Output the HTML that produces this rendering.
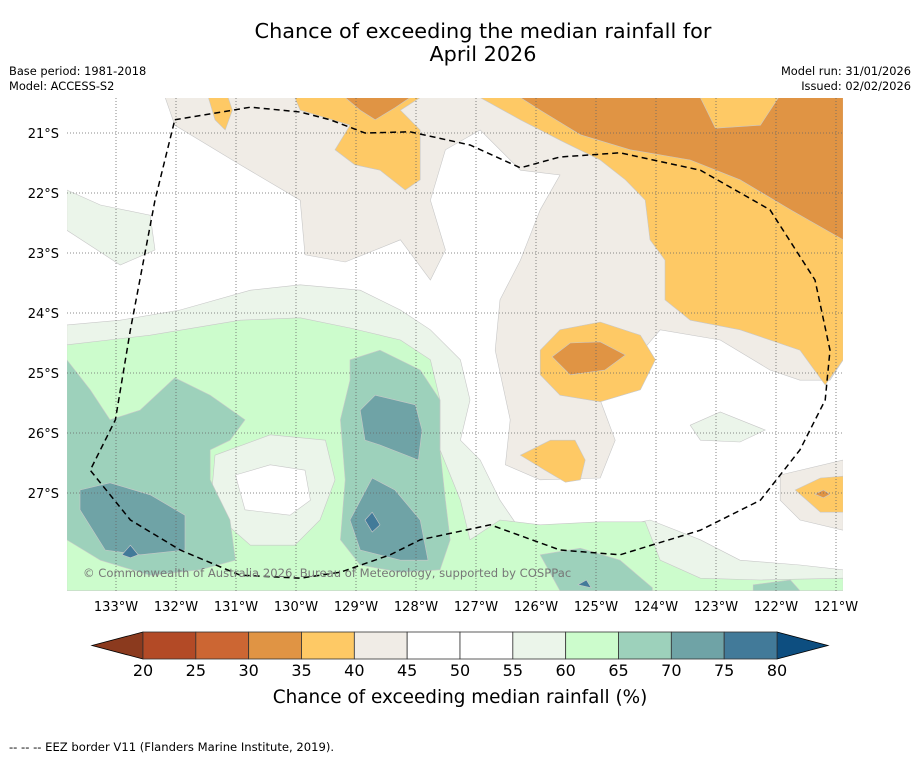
<!DOCTYPE html>
<html><head><meta charset="utf-8"><style>
body{margin:0;background:#fff;}
svg{display:block;font-family:"DejaVu Sans","Liberation Sans",sans-serif;}
</style></head><body>
<svg id="chart" width="919" height="758" viewBox="0 0 919 758" xmlns="http://www.w3.org/2000/svg">
<rect width="919" height="758" fill="#fff"/>
<text x="483" y="38" font-size="20.8" text-anchor="middle">Chance of exceeding the median rainfall for</text>
<text x="483" y="61" font-size="20.8" text-anchor="middle">April 2026</text>
<text x="9" y="75" font-size="11.4">Base period: 1981-2018</text>
<text x="9" y="90" font-size="11.4">Model: ACCESS-S2</text>
<text x="911" y="75" font-size="11.4" text-anchor="end">Model run: 31/01/2026</text>
<text x="911" y="90" font-size="11.4" text-anchor="end">Issued: 02/02/2026</text>
<defs><clipPath id="mapclip"><rect x="67" y="98" width="776" height="493"/></clipPath></defs>
<g id="map" clip-path="url(#mapclip)"></g>
<g id="grid"></g>
<path id="eez" fill="none" stroke="#000" stroke-width="1.5" stroke-dasharray="6,4" clip-path="url(#mapclip)"/>
<text x="83" y="577" font-size="11.6" fill="#777">© Commonwealth of Australia 2026, Bureau of Meteorology, supported by COSPPac</text>
<g id="xticks"></g>
<g id="yticks"></g>
<g id="cbar"></g>
<text x="460" y="703" font-size="18.4" text-anchor="middle">Chance of exceeding median rainfall (%)</text>
<text x="9" y="751" font-size="11.6">--  --  -- EEZ border V11 (Flanders Marine Institute, 2019).</text>
</svg>
<script>
const lonTicks=[133,132,131,130,129,128,127,126,125,124,123,122,121];
const latTicks=[21,22,23,24,25,26,27];
const levels=[20,25,30,35,40,45,50,55,60,65,70,75,80];
const levelColors=["#b34a26","#cc6633","#e09444","#fec965","#f0ece6","#ffffff","#ffffff","#ebf5ea","#ccfccc","#9dd1bb","#6fa3a6","#427a99"];
const extLow="#8b3a1e", extHigh="#0d4e80";
const beigeMain=[[132.18,20.41],[132.02,20.87],[130.93,21.53],[129.93,22.12],[129.85,23.03],[129.18,23.15],[128.68,22.95],[128.26,22.78],[127.76,23.45],[127.51,22.95],[127.76,22.12],[127.51,21.28],[126.93,20.95],[126.26,21.62],[125.6,21.7],[125.93,22.28],[126.26,23.12],[126.6,23.78],[126.68,24.62],[126.43,25.78],[126.51,26.53],[125.93,26.78],[124.93,26.75],[124.68,26.12],[124.93,25.45],[123.93,24.28],[122.93,24.45],[122.1,24.95],[121.6,25.12],[121.1,25.12],[120.88,24.78],[120.88,20.41]];
const beigeRight=[[121.93,26.7],[120.88,26.45],[120.88,27.62],[121.6,27.45],[121.93,27.12]];
const orangeTop=[[130.02,20.41],[129.93,20.62],[129.1,20.87],[129.35,21.28],[129.02,21.53],[128.6,21.62],[128.18,21.95],[127.93,21.78],[127.93,20.95],[128.26,20.62],[127.93,20.41]];
const orangeSmall=[[131.46,20.41],[131.35,20.78],[131.18,20.95],[131.06,20.62],[131.13,20.41]];
const orangeRight=[[126.93,20.41],[126.26,20.78],[125.6,21.12],[124.93,21.45],[124.51,21.78],[124.18,22.12],[124.1,22.78],[123.85,23.12],[123.85,23.78],[123.43,24.12],[122.6,24.28],[121.6,24.62],[121.18,25.2],[120.88,24.78],[120.88,20.41]];
const orangeMid=[[125.93,24.62],[125.6,24.28],[124.93,24.15],[124.26,24.37],[124.01,24.78],[124.26,25.28],[124.93,25.48],[125.6,25.37],[125.93,25.03]];
const orangeLow=[[126.26,26.37],[125.76,26.12],[125.35,26.12],[125.18,26.45],[125.26,26.78],[125.51,26.82],[125.85,26.62]];
const orangeEdge=[[121.68,26.95],[121.26,26.75],[120.88,26.72],[120.88,27.32],[121.26,27.32]];
const darkTop=[[129.18,20.41],[128.93,20.62],[128.68,20.78],[128.35,20.58],[128.1,20.41]];
const darkRight=[[126.26,20.41],[125.93,20.62],[125.26,21.03],[124.43,21.28],[123.43,21.45],[122.6,21.78],[121.76,22.28],[120.88,22.78],[120.88,20.41],[121.96,20.41],[122.26,20.87],[123.01,20.92],[123.26,20.41]];
const darkMid=[[125.73,24.73],[125.43,24.5],[124.93,24.48],[124.51,24.7],[124.85,24.95],[125.43,25.03]];
const darkEdge=[[121.35,27.02],[121.21,26.95],[121.1,27.02],[121.21,27.08]];
const lgTopLeft=[[133.82,21.95],[133.26,22.2],[132.43,22.37],[132.35,22.95],[132.93,23.2],[133.82,22.62]];
const lgMain=[[133.82,24.2],[132.93,24.12],[131.93,23.95],[130.76,23.62],[129.93,23.53],[128.93,23.62],[128.26,23.95],[127.76,24.28],[127.26,24.78],[127.1,25.45],[127.26,26.12],[126.93,26.45],[126.6,27.12],[126.26,27.62],[125.6,27.87],[124.93,27.62],[124.1,27.45],[123.26,27.78],[122.6,28.12],[121.6,28.2],[120.88,28.28],[120.88,28.63],[133.82,28.63]];
const lgPatch=[[123.43,25.87],[122.93,25.65],[122.18,25.95],[122.6,26.15],[123.26,26.12]];
const greenMain=[[133.82,24.53],[132.43,24.37],[130.93,24.12],[129.93,24.08],[129.1,24.25],[128.26,24.45],[127.76,24.78],[127.6,25.45],[127.6,26.28],[127.26,27.12],[127.1,27.78],[126.6,27.45],[125.93,27.53],[124.93,27.48],[124.18,27.48],[123.93,28.12],[123.26,28.42],[122.26,28.45],[120.88,28.42],[120.88,28.63],[133.82,28.63]];
const lgRing=[[131.35,26.37],[130.43,26.03],[129.51,26.12],[129.35,26.78],[129.6,27.45],[130.02,27.87],[130.76,27.87],[131.43,27.28]];
const whiteInner=[[131.01,26.7],[130.43,26.53],[129.85,26.62],[129.76,27.12],[130.1,27.37],[130.85,27.28]];
const tealLeft=[[133.82,24.78],[133.43,25.28],[133.1,25.78],[132.6,25.62],[132.02,25.08],[131.43,25.37],[130.85,25.78],[131.1,26.12],[131.43,26.28],[131.43,26.78],[131.1,27.45],[131.01,28.12],[131.6,28.28],[132.43,28.37],[133.26,28.12],[133.82,27.78]];
const tealCenter=[[129.1,24.78],[128.6,24.62],[127.93,24.95],[127.6,25.45],[127.6,26.28],[127.51,27.12],[127.43,27.78],[127.6,28.28],[128.26,28.32],[128.93,28.2],[129.26,27.78],[129.18,26.78],[129.26,25.78],[129.1,25.12]];
const tealBR=[[125.93,28.03],[125.26,27.92],[124.6,28.12],[124.06,28.58],[124.06,28.63],[125.6,28.63]];
const tealBR2=[[122.38,28.53],[121.76,28.45],[121.6,28.63],[122.38,28.63]];
const deepLeft=[[133.6,26.95],[133.1,26.83],[132.43,27.03],[131.85,27.37],[131.85,27.95],[132.6,28.03],[133.18,27.95],[133.6,27.28]];
const deepCtrTop=[[128.93,25.62],[128.68,25.37],[128.01,25.53],[127.9,25.95],[127.96,26.45],[128.6,26.2],[128.85,26.12]];
const deepCtrBot=[[129.1,27.45],[128.73,26.75],[128.35,26.95],[127.93,27.45],[127.8,28.12],[128.26,28.12],[128.93,27.95]];
const darkest1=[[132.9,28.03],[132.76,27.87],[132.63,28.03],[132.76,28.08]];
const darkest2=[[128.85,27.45],[128.73,27.32],[128.6,27.53],[128.73,27.65]];
const darkest3=[[125.3,28.53],[125.16,28.45],[125.08,28.58]];
const eezLine=[[132.02,20.78],[130.76,20.57],[129.93,20.65],[129.43,20.78],[128.85,21.0],[128.1,20.98],[127.1,21.2],[126.26,21.58],[125.6,21.4],[124.6,21.33],[123.26,21.62],[122.1,22.28],[121.35,23.45],[121.1,24.62],[121.18,25.45],[121.6,26.28],[122.26,27.12],[123.26,27.62],[124.6,28.03],[125.6,27.95],[126.76,27.53],[127.93,27.78],[128.43,28.03],[129.26,28.32],[129.93,28.42],[130.93,28.37],[131.93,27.95],[132.76,27.45],[133.43,26.62],[133.01,25.78],[132.76,24.28],[132.35,22.12],[132.02,20.78]];
const layers=[[4,beigeMain],[4,beigeRight],[3,orangeTop],[3,orangeSmall],[3,orangeRight],[3,orangeMid],[3,orangeLow],[3,orangeEdge],[2,darkTop],[2,darkRight],[2,darkMid],[2,darkEdge],[7,lgTopLeft],[7,lgMain],[7,lgPatch],[8,greenMain],[7,lgRing],[5,whiteInner],[9,tealLeft],[9,tealCenter],[9,tealBR],[9,tealBR2],[10,deepLeft],[10,deepCtrTop],[10,deepCtrBot],[11,darkest1],[11,darkest2],[11,darkest3]];
const layerNames=["beige-main","beige-right","orange-top","orange-small","orange-right","orange-mid","orange-low","orange-edge","darkorange-top","darkorange-right","darkorange-mid","darkorange-edge","lightgreen-topleft","lightgreen-main","lightgreen-patch","green-main","lightgreen-ring","white-inner","teal-left","teal-center","teal-bottom","teal-bottom-right","deepteal-left","deepteal-center-top","deepteal-center-bottom","darkest-1","darkest-2","darkest-3"];

const NS="http://www.w3.org/2000/svg";
const xS=lonW=>116+(133-lonW)*60;
const yS=latS=>133+(latS-21)*60;
const ptsStr=a=>a.map(p=>xS(p[0]).toFixed(1)+","+yS(p[1]).toFixed(1)).join(" ");
function mk(tag,attrs,parent){const e=document.createElementNS(NS,tag);for(const k in attrs)e.setAttribute(k,attrs[k]);parent.appendChild(e);return e;}
const map=document.getElementById('map');
layers.forEach((l,i)=>{
  const p=mk('polygon',{points:ptsStr(l[1]),fill:levelColors[l[0]],stroke:"#c8c8c8","stroke-width":"0.6"},map);
  
  
});
document.getElementById('eez').setAttribute('d','M'+eezLine.map(p=>xS(p[0]).toFixed(1)+","+yS(p[1]).toFixed(1)).join(" L"));
const grid=document.getElementById('grid'),xt=document.getElementById('xticks'),yt=document.getElementById('yticks');
lonTicks.forEach(v=>{
  const x=xS(v);
  mk('line',{x1:x,x2:x,y1:98,y2:591,stroke:"#666","stroke-width":"0.8","stroke-dasharray":"1,2"},grid);
  const t=mk('text',{x:x,y:611,"font-size":"13","text-anchor":"middle"},xt);
  t.textContent=v+"°W";
  
  
});
latTicks.forEach(v=>{
  const y=yS(v);
  mk('line',{x1:67,x2:843,y1:y,y2:y,stroke:"#666","stroke-width":"0.8","stroke-dasharray":"1,2"},grid);
  const t=mk('text',{x:59,y:y+5,"font-size":"13","text-anchor":"end"},yt);
  t.textContent=v+"°S";
  
  
});
const cb=document.getElementById('cbar');
const cx=v=>143+(v-20)*(777-143)/60;
const cy0=632,cy1=659;
const lo=mk('polygon',{points:`${cx(20)},${cy0} ${cx(20)},${cy1} 92,${(cy0+cy1)/2}`,fill:extLow,stroke:"#000","stroke-width":"0.8"},cb);


const hi=mk('polygon',{points:`${cx(80)},${cy0} ${cx(80)},${cy1} 828,${(cy0+cy1)/2}`,fill:extHigh,stroke:"#000","stroke-width":"0.8"},cb);


levelColors.forEach((c,i)=>{
  const r=mk('rect',{x:cx(levels[i]),y:cy0,width:cx(levels[i+1])-cx(levels[i]),height:cy1-cy0,fill:c,stroke:"#333","stroke-width":"0.8"},cb);
  
  
});
levels.forEach(v=>{
  const t=mk('text',{x:cx(v),y:676,"font-size":"16","text-anchor":"middle"},cb);
  t.textContent=v;
  
  
});
</script>
</body></html>
